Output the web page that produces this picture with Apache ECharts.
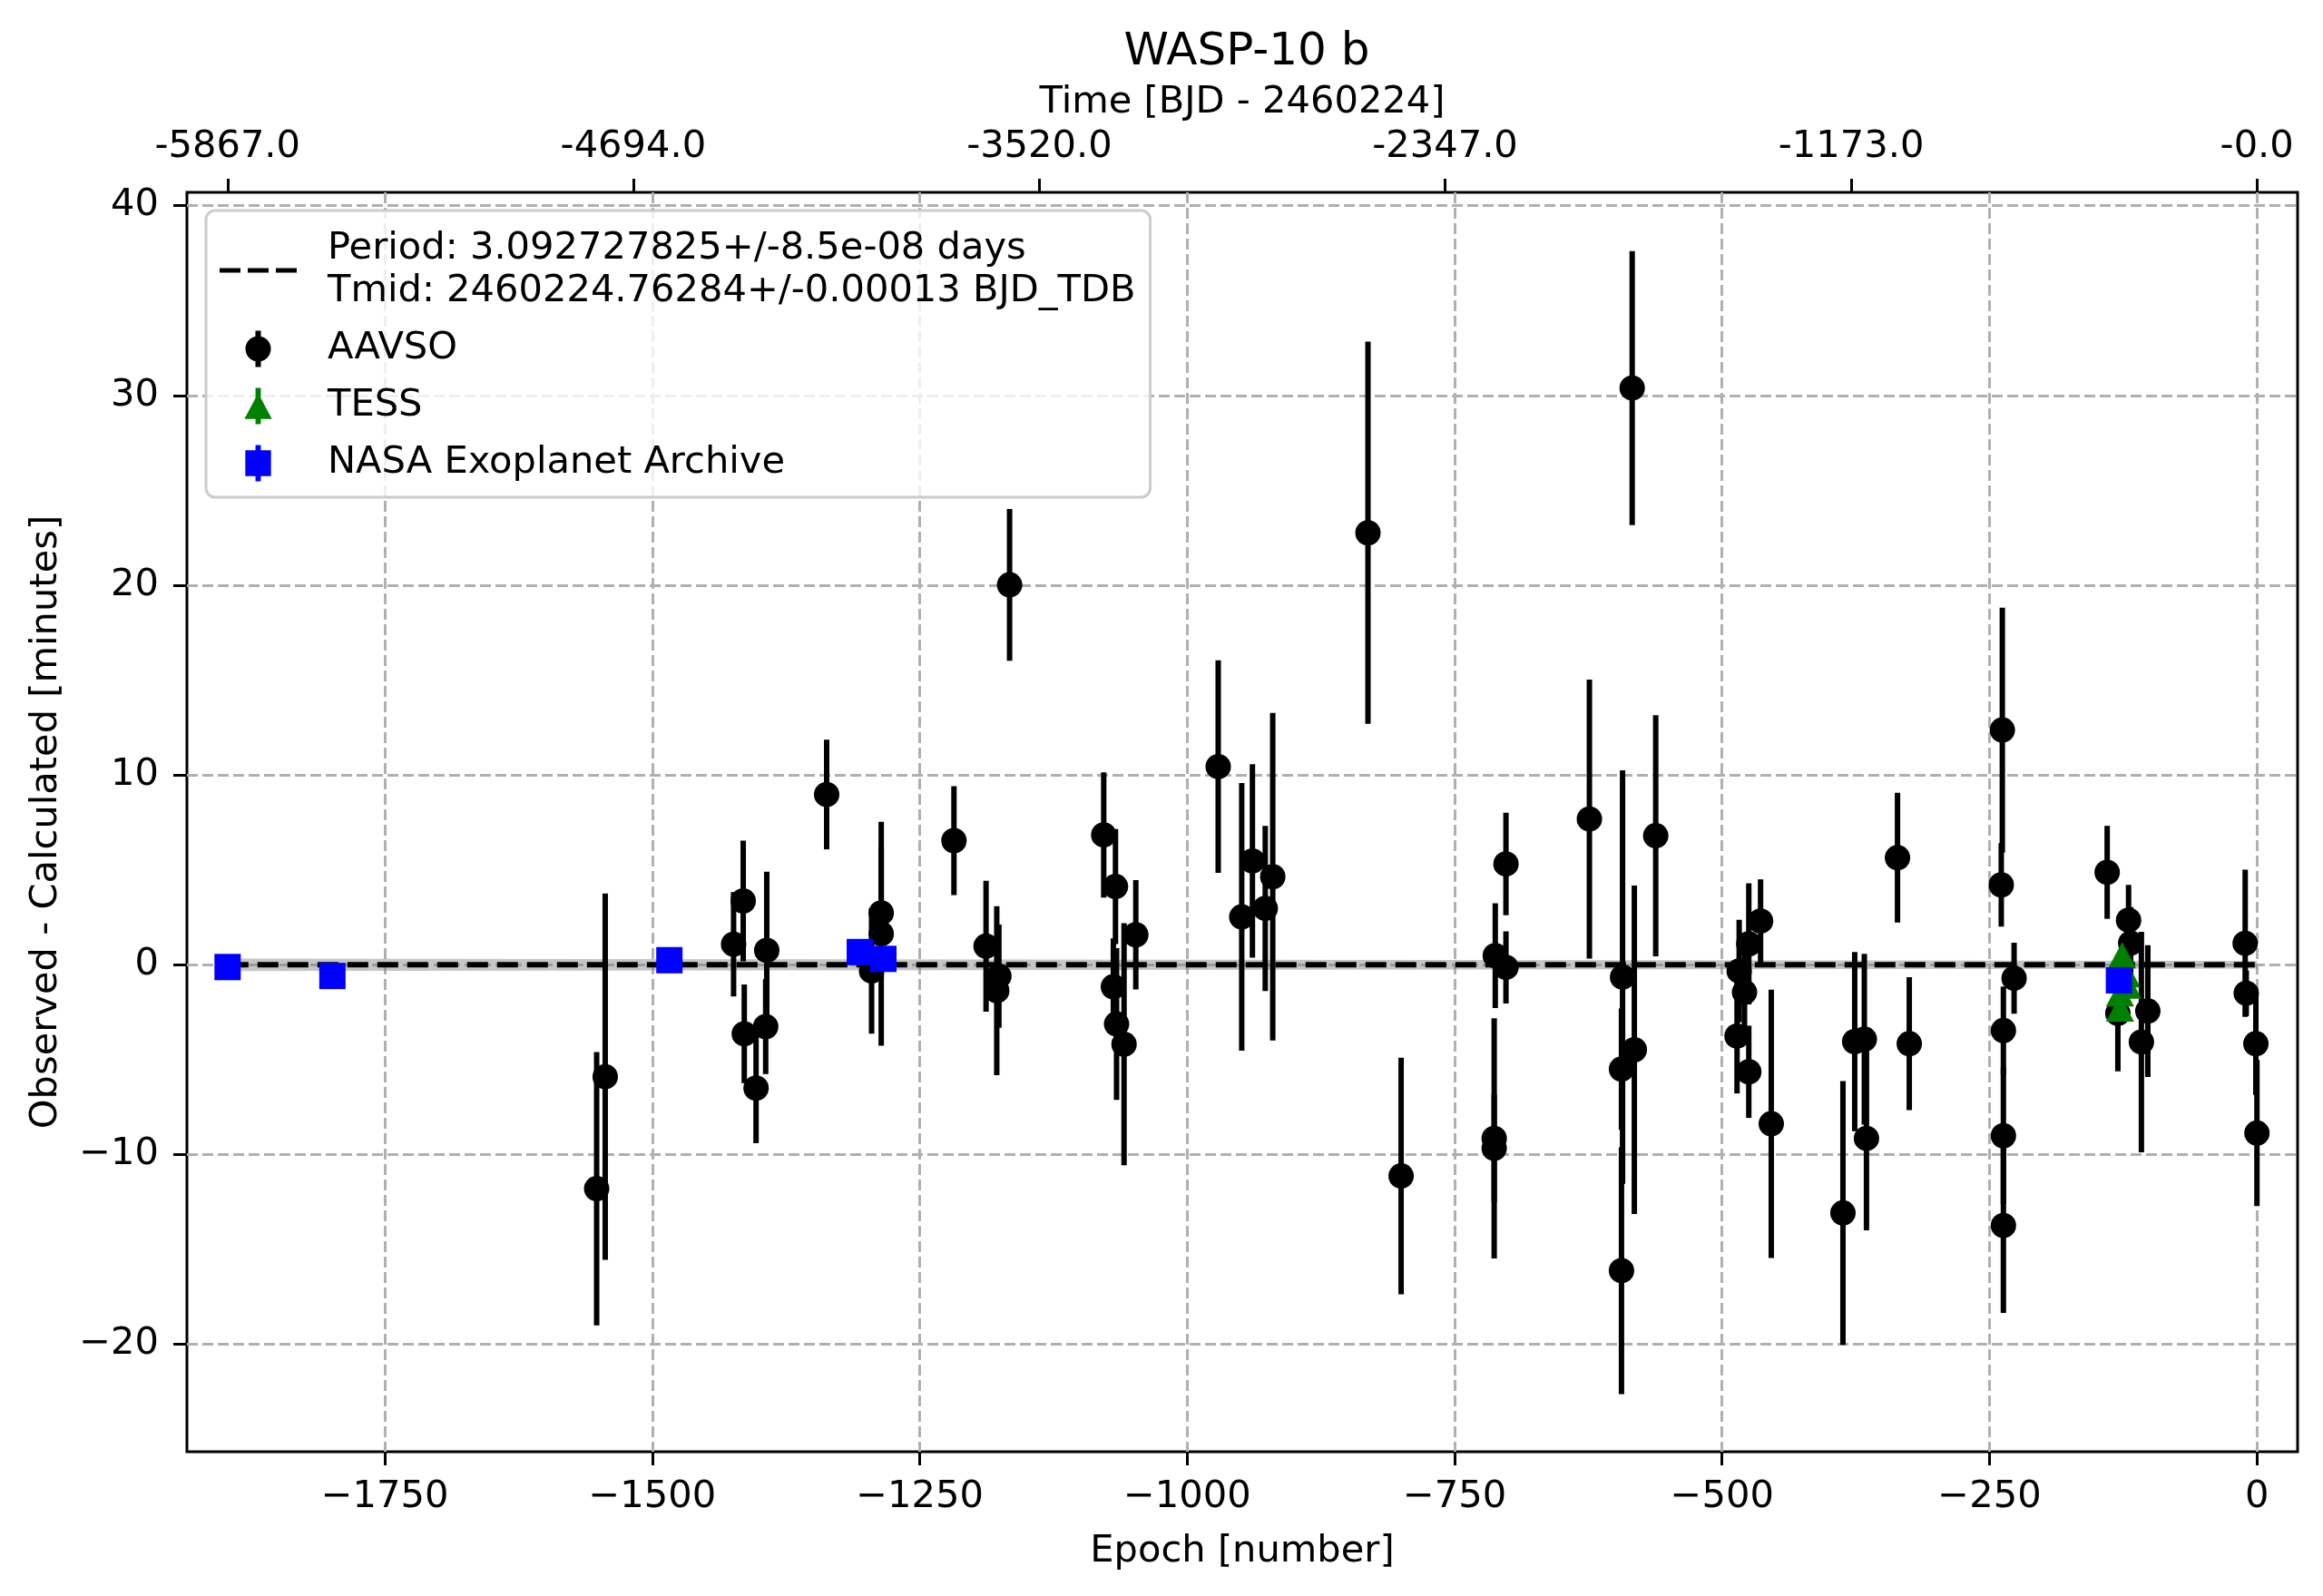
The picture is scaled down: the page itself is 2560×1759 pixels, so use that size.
<!DOCTYPE html>
<html>
<head>
<meta charset="utf-8">
<title>WASP-10 b O-C</title>
<script src="https://cdn.jsdelivr.net/npm/echarts@6/dist/echarts.min.js"></script>
<style>
  html, body { margin: 0; padding: 0; background: #fff; }
  #oc-chart { width: 2560px; height: 1759px; }
</style>
</head>
<body>
<div id="oc-chart"></div>
<script>
// ephemeris from the fit
var period = 3.092727825;
var fitLabel = 'Period: 3.092727825+/-8.5e-08 days\nTmid: 2460224.76284+/-0.00013 BJD_TDB';

// AAVSO transits: epoch, O-C [min], error [min]
var aavsoEpoch = [-1552, -1544, -1424, -1415, -1414, -1403, -1393, -1394, -1337, -1295,
  -1286, -1286, -1218, -1188, -1176, -1178, -1166, -1078, -1067, -1069,
  -1066, -1059, -1048, -971, -949, -939, -927, -920, -831, -800,
  -712, -713, -713, -702, -702, -624, -593, -594, -594, -582,
  -584, -562, -486, -484, -479, -475, -475, -464, -454, -387,
  -376, -367, -365, -336, -325, -239, -238, -237, -237, -237,
  -227, -140, -130, -120, -118, -108, -102, -11, -10, -1, 0];
var aavsoOmc = [-11.8, -5.9, 1.08, 3.36, -3.64, -6.5, 0.76, -3.26, 8.97, -0.33,
  2.73, 1.63, 6.54, 0.98, -0.6, -1.37, 20.02, 6.84, 4.12, -1.16,
  -3.12, -4.19, 1.58, 10.44, 2.52, 5.47, 2.97, 4.64, 22.76, -11.13,
  0.48, -9.15, -9.67, -0.14, 5.31, 7.68, -0.65, -5.5, -16.12, -4.48,
  30.39, 6.8, -3.76, -0.33, -1.45, 1.1, -5.64, 2.3, -8.38, -13.08,
  -4.05, -3.92, -9.15, 5.64, -4.16, 4.21, 12.37, -3.47, -9.01, -13.74,
  -0.71, 4.87, -2.56, 2.35, 1.14, -4.07, -2.44, 1.13, -1.5, -4.16, -8.87];
var aavsoErr = [7.2, 9.65, 2.75, 3.18, 2.6, 2.9, 4.14, 2.5, 2.89, 3.3,
  3.47, 5.9, 2.87, 3.45, 2.72, 4.45, 4.0, 3.3, 3.03, 2.55,
  4.0, 6.38, 2.88, 5.6, 7.05, 5.1, 4.35, 8.63, 10.07, 6.23,
  2.76, 6.33, 2.84, 1.9, 2.7, 7.35, 10.9, 3.2, 6.5, 8.65,
  7.22, 6.35, 3.02, 2.7, 2.6, 3.19, 2.43, 2.2, 7.07, 6.95,
  4.72, 4.5, 4.85, 3.42, 3.5, 2.2, 6.45, 2.32, 3.6, 4.6,
  1.87, 2.45, 3.06, 1.86, 1.9, 5.81, 3.47, 3.88, 1.2, 2.7, 3.85];

// TESS transits
var tessEpoch = [-126, -122, -121, -128, -128];
var tessOmc = [0.5, -0.5, -1.1, -1.5, -2.3];
var tessErr = [0.3, 0.3, 0.3, 0.3, 0.3];

// NASA Exoplanet Archive transits
var nasaEpoch = [-1897, -1799, -1484, -1306, -1284, -129];
var nasaOmc = [-0.12, -0.59, 0.24, 0.67, 0.31, -0.82];
var nasaErr = [0.2, 0.2, 0.2, 0.2, 0.2, 0.2];

// fitted ephemeris line and its uncertainty band
var fitEpoch = [-1897, 0];
var fitOmc = [0, 0];
var fitHalfWidth = [0.33, 0.2];

// axis ticks
var epochTicks = [-1750, -1500, -1250, -1000, -750, -500, -250, 0];
var omcTicks = [-20, -10, 0, 10, 20, 30, 40];
var timeTicks = [-5867.0, -4694.0, -3520.0, -2347.0, -1173.0, -0.0];
var timeTickLabels = ['-5867.0', '-4694.0', '-3520.0', '-2347.0', '-1173.0', '-0.0'];

var epochMin = -1935, epochMax = 38;
var omcMin = -25.66, omcMax = 40.7;

var FONT = 'DejaVu Sans';
var FS = 41.6;
var timeTickPos = timeTicks.map(function (t) { return t / period; });

function minusSign(v) {
  return v < 0 ? '\u2212' + Math.abs(v) : String(v);
}

function errorBars(name, ep, omc, err, color, z) {
  return {
    name: name,
    type: 'custom',
    z: z,
    silent: true,
    data: ep.map(function (e, i) { return [e, omc[i] - err[i], omc[i] + err[i]]; }),
    encode: {x: 0, y: [1, 2]},
    renderItem: function (params, api) {
      var lo = api.coord([api.value(0), api.value(1)]);
      var hi = api.coord([api.value(0), api.value(2)]);
      return {
        type: 'line',
        shape: {x1: lo[0], y1: lo[1], x2: hi[0], y2: hi[1]},
        style: {stroke: color, lineWidth: 6}
      };
    }
  };
}

function markers(name, ep, omc, symbol, size, color, z) {
  return {
    name: name,
    type: 'scatter',
    z: z,
    silent: true,
    symbol: symbol,
    symbolSize: size,
    itemStyle: {color: color, opacity: 1},
    emphasis: {disabled: true},
    data: ep.map(function (e, i) { return [e, omc[i]]; })
  };
}

var chart = echarts.init(document.getElementById('oc-chart'));

var option = {
  animation: false,
  backgroundColor: '#ffffff',
  textStyle: {fontFamily: FONT},
  title: {
    text: 'WASP-10 b',
    left: 1369,
    top: 28,
    textAlign: 'center',
    textStyle: {fontFamily: FONT, fontSize: 50, fontWeight: 'normal', color: '#000'}
  },
  grid: {
    left: 206, right: 28, top: 212, bottom: 159,
    containLabel: false,
    show: true,
    borderColor: '#000',
    borderWidth: 3,
    backgroundColor: 'transparent'
  },
  legend: {
    left: 227,
    top: 232,
    orient: 'vertical',
    selectedMode: false,
    padding: [19, 16, 14, 15],
    itemWidth: 85,
    itemHeight: 40,
    itemGap: 16,
    backgroundColor: 'rgba(255,255,255,0.8)',
    borderColor: '#cccccc',
    borderWidth: 3,
    borderRadius: 10,
    textStyle: {fontFamily: FONT, fontSize: FS, lineHeight: 47, color: '#000', padding: [0, 0, 0, 29]},
    data: [
      {name: fitLabel, icon: 'path://M0,0h23v5h-23z M31,0h23v5h-23z M62,0h23v5h-23z',
        itemStyle: {color: '#000', borderWidth: 0}},
      {name: 'AAVSO', icon: 'path://M0,20a14,14 0 1,1 28,0a14,14 0 1,1 -28,0z M11,0h6v40h-6z',
        itemStyle: {color: '#000', borderWidth: 0}},
      {name: 'TESS', icon: 'path://M15.5,6L31,35L0,35z M12.5,0h6v41h-6z',
        itemStyle: {color: '#008000', borderWidth: 0}},
      {name: 'NASA Exoplanet Archive', icon: 'path://M0,6h29v29h-29z M11.5,0h6v41h-6z',
        itemStyle: {color: '#0000ff', borderWidth: 0}}
    ]
  },
  xAxis: [
    {
      type: 'value',
      position: 'bottom',
      min: epochMin,
      max: epochMax,
      name: 'Epoch [number]',
      nameLocation: 'middle',
      nameGap: 89,
      nameTextStyle: {fontFamily: FONT, fontSize: FS, color: '#000'},
      axisLine: {show: false, onZero: false},
      axisTick: {show: true, inside: false, length: 15, customValues: epochTicks,
        lineStyle: {color: '#000', width: 3}},
      axisLabel: {customValues: epochTicks, margin: 29, fontFamily: FONT, fontSize: FS, color: '#000',
        formatter: function (v) { return minusSign(v); }},
      splitLine: {show: true, lineStyle: {color: '#b0b0b0', width: 3, type: [12, 5]}}
    },
    {
      type: 'value',
      position: 'top',
      min: epochMin,
      max: epochMax,
      name: 'Time [BJD - 2460224]',
      nameLocation: 'middle',
      nameGap: 78,
      nameTextStyle: {fontFamily: FONT, fontSize: FS, color: '#000'},
      axisLine: {show: false, onZero: false},
      axisTick: {show: true, inside: false, length: 15, customValues: timeTickPos,
        lineStyle: {color: '#000', width: 3}},
      axisLabel: {customValues: timeTickPos, margin: 29, fontFamily: FONT, fontSize: FS, color: '#000',
        formatter: function (v) {
          for (var i = 0; i < timeTickPos.length; i++) {
            if (Math.abs(timeTickPos[i] - v) < 1e-6) return timeTickLabels[i];
          }
          return '';
        }},
      splitLine: {show: false}
    }
  ],
  yAxis: {
    type: 'value',
    min: omcMin,
    max: omcMax,
    name: 'Observed - Calculated [minutes]',
    nameLocation: 'middle',
    nameGap: 134,
    nameTextStyle: {fontFamily: FONT, fontSize: FS, color: '#000'},
    axisLine: {show: false, onZero: false},
    axisTick: {show: true, inside: false, length: 15, customValues: omcTicks,
      lineStyle: {color: '#000', width: 3}},
    axisLabel: {customValues: omcTicks, margin: 31, fontFamily: FONT, fontSize: FS, color: '#000',
      formatter: function (v) { return minusSign(v); }},
    splitLine: {show: true, lineStyle: {color: '#b0b0b0', width: 3, type: [12, 5]}}
  },
  series: [
    {
      // uncertainty band of the linear ephemeris
      type: 'custom',
      z: 1,
      silent: true,
      data: [[fitEpoch[0], fitOmc[0]]],
      renderItem: function (params, api) {
        var pts = [], i;
        for (i = 0; i < fitEpoch.length; i++) pts.push(api.coord([fitEpoch[i], fitOmc[i] + fitHalfWidth[i]]));
        for (i = fitEpoch.length - 1; i >= 0; i--) pts.push(api.coord([fitEpoch[i], fitOmc[i] - fitHalfWidth[i]]));
        return {type: 'polygon', shape: {points: pts}, style: {fill: 'rgba(128,128,128,0.45)'}};
      }
    },
    {
      name: fitLabel,
      type: 'line',
      z: 2,
      silent: true,
      symbol: 'none',
      itemStyle: {color: '#000'},
      lineStyle: {color: '#000', width: 6, type: [23, 10]},
      data: fitEpoch.map(function (e, i) { return [e, fitOmc[i]]; })
    },
    errorBars('AAVSO', aavsoEpoch, aavsoOmc, aavsoErr, '#000', 3),
    markers('AAVSO', aavsoEpoch, aavsoOmc, 'circle', 28, '#000', 4),
    errorBars('TESS', tessEpoch, tessOmc, tessErr, '#008000', 5),
    markers('TESS', tessEpoch, tessOmc, 'triangle', [31, 29], '#008000', 6),
    errorBars('NASA Exoplanet Archive', nasaEpoch, nasaOmc, nasaErr, '#0000ff', 7),
    markers('NASA Exoplanet Archive', nasaEpoch, nasaOmc, 'rect', 29, '#0000ff', 8)
  ]
};

chart.setOption(option);
</script>
</body>
</html>
